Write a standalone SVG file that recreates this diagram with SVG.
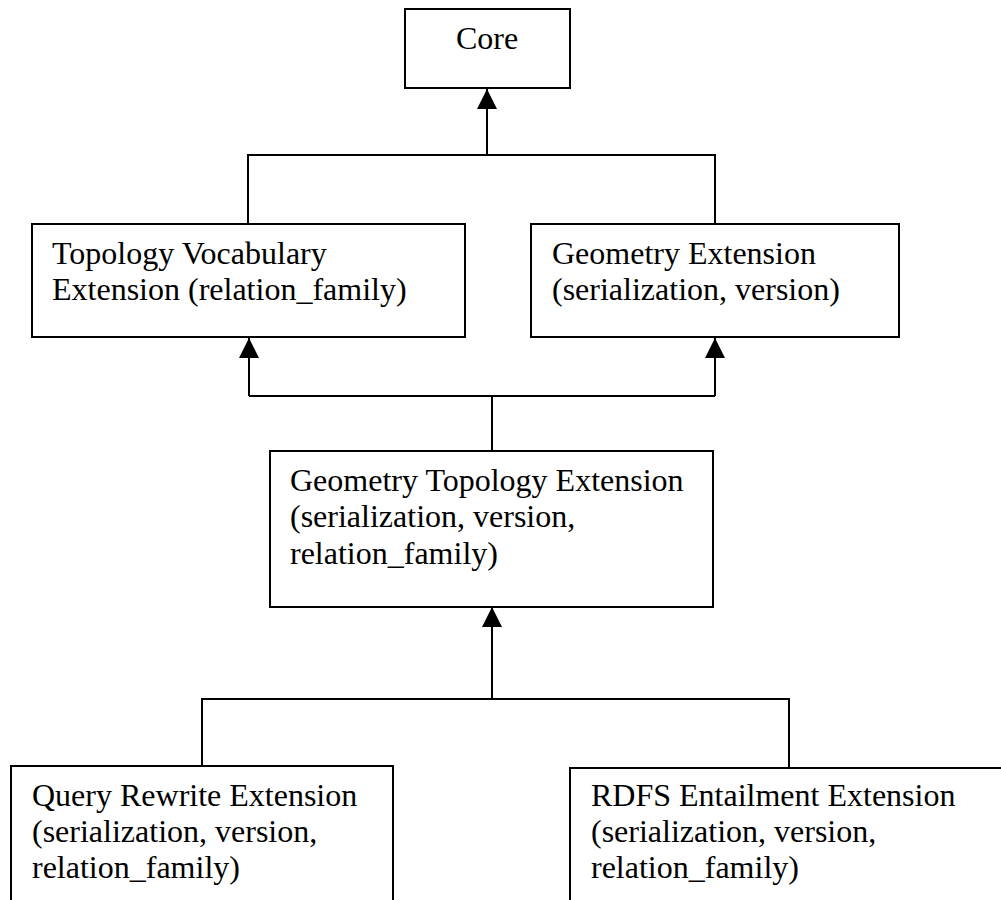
<svg xmlns="http://www.w3.org/2000/svg" width="1001" height="900" viewBox="0 0 1001 900">
<style>
.box{fill:#fff;stroke:#000;stroke-width:2}
.t{font-family:"Liberation Serif","Times New Roman",serif;font-size:32px;fill:#000}
.c{fill:none;stroke:#000;stroke-width:2}
</style>
<defs>
<marker id="ah" markerUnits="userSpaceOnUse" markerWidth="20" markerHeight="21" viewBox="0 0 20 21" refX="20" refY="10" orient="auto">
<path d="M0,0 L20,10 L0,20 Z" fill="#000"/>
</marker>
</defs>
<rect width="1001" height="900" fill="#fff"/>
<g id="connectors">
<path class="c" d="M248,224 V155 H715 V224"/>
<path class="c" d="M487,155 V89" marker-end="url(#ah)"/>
<path class="c" d="M492,451 V396"/>
<path class="c" d="M249,396 H715"/>
<path class="c" d="M249,396 V338" marker-end="url(#ah)"/>
<path class="c" d="M715,396 V338" marker-end="url(#ah)"/>
<path class="c" d="M202,766 V699 H789 V768"/>
<path class="c" d="M492,699 V607" marker-end="url(#ah)"/>
</g>
<g id="core">
<rect class="box" x="405" y="9" width="165" height="79"/>
<text class="t" x="487" y="49" text-anchor="middle">Core</text>
</g>
<g id="topology">
<rect class="box" x="32" y="224" width="433" height="113"/>
<text class="t" x="52" y="264">Topology Vocabulary</text>
<text class="t" x="52" y="300">Extension (relation_family)</text>
</g>
<g id="geometry">
<rect class="box" x="531" y="224" width="368" height="113"/>
<text class="t" x="552" y="264">Geometry Extension</text>
<text class="t" x="552" y="300">(serialization, version)</text>
</g>
<g id="geotopo">
<rect class="box" x="270" y="451" width="443" height="156"/>
<text class="t" x="290" y="491">Geometry Topology Extension</text>
<text class="t" x="290" y="527">(serialization, version,</text>
<text class="t" x="290" y="564">relation_family)</text>
</g>
<g id="queryrewrite">
<rect class="box" x="11" y="766" width="382" height="150"/>
<text class="t" x="32" y="806">Query Rewrite Extension</text>
<text class="t" x="32" y="842">(serialization, version,</text>
<text class="t" x="32" y="878">relation_family)</text>
</g>
<g id="rdfs">
<rect class="box" x="570" y="768" width="450" height="150"/>
<text class="t" x="591" y="806">RDFS Entailment Extension</text>
<text class="t" x="591" y="842">(serialization, version,</text>
<text class="t" x="591" y="878">relation_family)</text>
</g>
</svg>
